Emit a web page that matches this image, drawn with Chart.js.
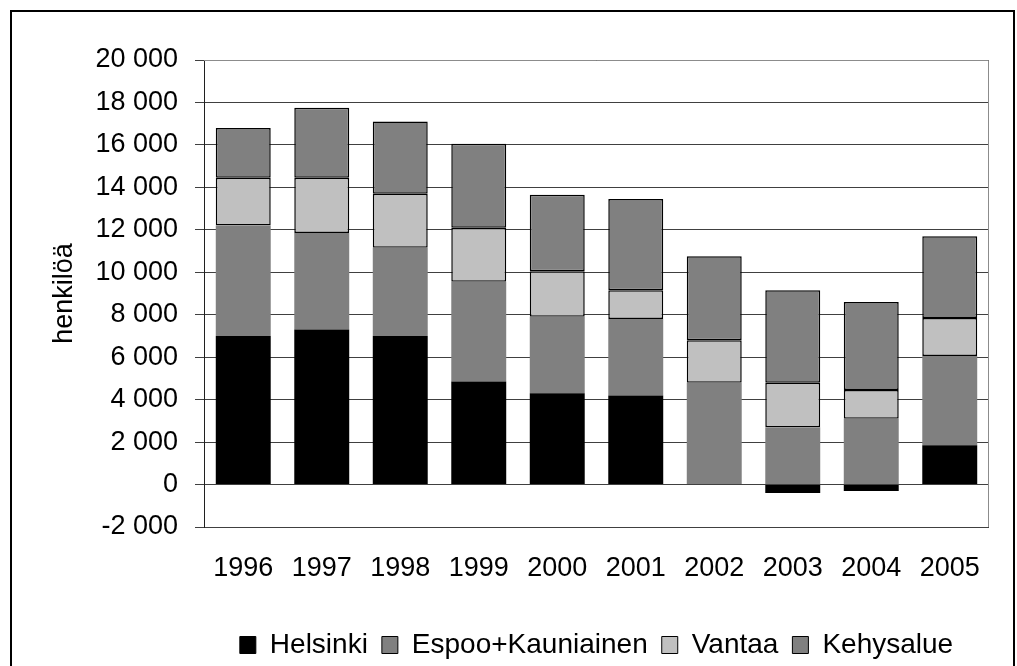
<!DOCTYPE html>
<html lang="fi">
  <head>
    <meta charset="UTF-8" />
    <title>henkilöä</title>
    <style>
      body { margin: 0; background: #fff; overflow: hidden; }
      #wrap { position: relative; width: 1017px; height: 666px; }
      #frame {
        position: absolute; left: 10px; top: 10px; width: 1001px; height: 700px;
        border: 2px solid #000; pointer-events: none;
      }
    </style>
  </head>
  <body>
    <div id="wrap">
      <canvas id="chart" width="1017" height="666"></canvas>
      <div id="frame"></div>
    </div>

    <script src="https://cdn.jsdelivr.net/npm/chart.js@4"></script>
    <script>
      const years = ["1996", "1997", "1998", "1999", "2000", "2001", "2002", "2003", "2004", "2005"];
      const helsinki = [7000, 7300, 7000, 4850, 4300, 4200, 0, -400, -300, 1850];
      const espooKauniainen = [5200, 4550, 4150, 4700, 3600, 3600, 4800, 2700, 3100, 4200];
      const vantaa = [2250, 2600, 2550, 2550, 2150, 1350, 2000, 2100, 1350, 1800];
      const kehysalue = [2350, 3300, 3400, 3950, 3600, 4300, 3950, 4350, 4150, 3850];

      const font = { family: "'Liberation Sans', Arial, sans-serif", size: 27 };

      // gray frame round the plot area
      const plotFrame = {
        id: "plotFrame",
        afterDraw(chart) {
          const a = chart.chartArea;
          const c = chart.ctx;
          c.save();
          c.strokeStyle = "#8c8c8c";
          c.lineWidth = 1;
          c.beginPath();
          c.moveTo(a.left, a.top + 0.5);
          c.lineTo(a.right - 0.5, a.top + 0.5);
          c.lineTo(a.right - 0.5, a.bottom);
          c.stroke();
          c.restore();
        },
      };

      const ctx = document.getElementById("chart").getContext("2d");
      new Chart(ctx, {
        type: "bar",
        data: {
          labels: years,
          datasets: [
            { label: "Helsinki", data: helsinki, backgroundColor: "#000000", borderWidth: 0 },
            { label: "Espoo+Kauniainen", data: espooKauniainen, backgroundColor: "#808080", borderWidth: 0 },
            { label: "Vantaa", data: vantaa, backgroundColor: "#c0c0c0", borderColor: "#000", borderWidth: 1.5, borderSkipped: false },
            { label: "Kehysalue", data: kehysalue, backgroundColor: "#808080", borderColor: "#000", borderWidth: 1.5, borderSkipped: false },
          ],
        },
        options: {
          responsive: false,
          animation: false,
          datasets: { bar: { barPercentage: 0.7, categoryPercentage: 1 } },
          layout: { padding: { top: 60, right: 28, left: 0, bottom: -3 } },
          plugins: {
            tooltip: { enabled: false },
            legend: {
              position: "bottom",
              fullSize: false,
              labels: {
                color: "#000",
                font: { family: font.family, size: 28 },
                boxWidth: 16,
                boxHeight: 17,
                padding: 14,
                generateLabels(chart) {
                  const items = Chart.defaults.plugins.legend.labels.generateLabels(chart);
                  items.forEach((it) => { it.lineWidth = 1; it.strokeStyle = "#000"; });
                  return items;
                },
              },
            },
          },
          scales: {
            x: {
              stacked: true,
              grid: { display: false, drawTicks: false },
              border: { display: false },
              ticks: { color: "#000", font: font, padding: 25, maxRotation: 0 },
              afterFit(scale) { scale.height = 90; },
            },
            y: {
              stacked: true,
              min: -2000,
              max: 20000,
              ticks: {
                stepSize: 2000,
                color: "#000",
                font: font,
                padding: 17,
                callback: (v) => (v < 0 ? "-" : "") + String(Math.abs(v)).replace(/\B(?=(\d{3})+(?!\d))/g, " "),
              },
              grid: { color: "#404040", tickColor: "#404040", tickLength: 9 },
              border: { color: "#202020", width: 1 },
              title: { display: true, text: "henkilöä", color: "#000", font: font, padding: { top: 48, bottom: 0 } },
              afterFit(scale) { scale.width = 204; },
            },
          },
        },
        plugins: [plotFrame],
      });
    </script>
  </body>
</html>
